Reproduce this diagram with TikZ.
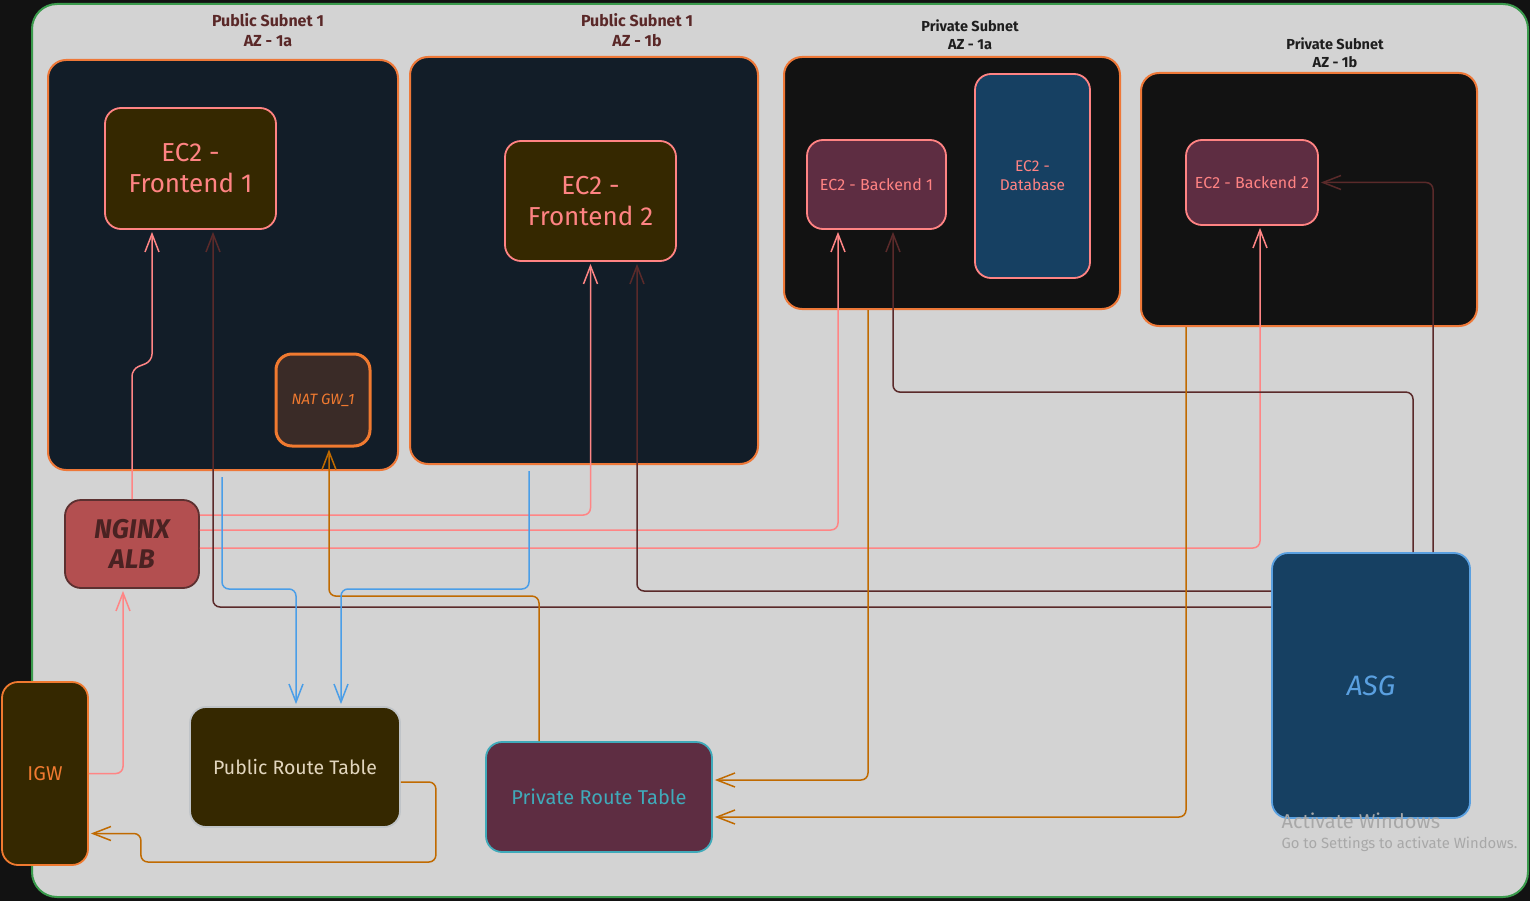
\documentclass[tikz,border=0pt]{standalone}
\usepackage{fontspec}
\setmainfont{Fira Sans}
\usetikzlibrary{arrows.meta}
\definecolor{bgdark}{HTML}{121212}
\definecolor{canvas}{HTML}{D3D3D3}
\definecolor{canvasline}{HTML}{3A9A4C}
\definecolor{pubfill}{HTML}{121D28}
\definecolor{privfill}{HTML}{121212}
\definecolor{subnetline}{HTML}{EE7838}
\definecolor{olive}{HTML}{352800}
\definecolor{salmon}{HTML}{FF8383}
\definecolor{plum}{HTML}{5E2D42}
\definecolor{navy}{HTML}{164062}
\definecolor{natfill}{HTML}{3A2B27}
\definecolor{natline}{HTML}{F07A30}
\definecolor{albfill}{HTML}{B34F50}
\definecolor{albline}{HTML}{5C3030}
\definecolor{albtext}{HTML}{4A2222}
\definecolor{rtline}{HTML}{C0C4C8}
\definecolor{rttext}{HTML}{E2D6BE}
\definecolor{teal}{HTML}{40AABA}
\definecolor{asgline}{HTML}{5AA0E0}
\definecolor{pubtitle}{HTML}{5A2828}
\definecolor{privtitle}{HTML}{1E1E1E}
\definecolor{wirepink}{HTML}{FF8585}
\definecolor{wiremaroon}{HTML}{5A2A2A}
\definecolor{wireorange}{HTML}{C06A00}
\definecolor{wireblue}{HTML}{4A9EE8}
\definecolor{winmark}{HTML}{A8A8A8}

\begin{document}
\begin{tikzpicture}[x=1pt,y=-1pt,
    subnet/.style={draw=subnetline,line width=2pt,rounded corners=18pt,inner sep=0pt},
    title/.style={align=center,font=\bfseries\fontsize{16}{20}\selectfont},
    box/.style={line width=1.8pt,rounded corners=16pt,inner sep=0pt,align=center},
    ec2/.style={box,draw=salmon,text=salmon},
    wire/.style={line width=1.5pt,rounded corners=7pt,shorten >=2pt,-{Straight Barb[length=18pt,width=14pt]}},
    pk/.style={wire,draw=wirepink},
    mr/.style={wire,draw=wiremaroon},
    og/.style={wire,draw=wireorange},
    bl/.style={wire,draw=wireblue}]
  \fill[bgdark] (0,0) rectangle (1530,901);
  \useasboundingbox (0,0) rectangle (1530,901);
  \draw[canvasline,line width=2pt,fill=canvas,rounded corners=25pt] (32,4) rectangle (1528,897);

  \node[subnet,fill=pubfill,minimum width=350pt,minimum height=410pt] (pub1a) at (223,265) {};
  \node[subnet,fill=pubfill,minimum width=348pt,minimum height=407pt] (pub1b) at (584,260.5) {};
  \node[subnet,fill=privfill,minimum width=336pt,minimum height=252pt] (priv1a) at (952,183) {};
  \node[subnet,fill=privfill,minimum width=336pt,minimum height=253pt] (priv1b) at (1309,199.5) {};
  \node[title,text=pubtitle] (pub1atitle) at (268,30) {Public Subnet 1\\AZ - 1a};
  \node[title,text=pubtitle] (pub1btitle) at (637,30) {Public Subnet 1\\AZ - 1b};
  \node[title,text=privtitle,font=\bfseries\fontsize{14.5}{18}\selectfont] (priv1atitle) at (970,35) {Private Subnet\\AZ - 1a};
  \node[title,text=privtitle,font=\bfseries\fontsize{14.5}{18}\selectfont] (priv1btitle) at (1335,53) {Private Subnet\\AZ - 1b};

  \node[ec2,fill=olive,minimum width=171pt,minimum height=121pt,font=\fontsize{26}{31}\selectfont] (front1) at (190.5,168.5) {EC2 -\\Frontend 1};
  \node[ec2,fill=olive,minimum width=171pt,minimum height=120pt,font=\fontsize{26}{31}\selectfont] (front2) at (590.5,201) {EC2 -\\Frontend 2};
  \node[box,draw=natline,line width=3pt,fill=natfill,text=natline,minimum width=94pt,minimum height=92pt,font=\itshape\fontsize{15}{16}\selectfont] (natgw) at (323,400) {NAT GW\_1};
  \node[ec2,fill=plum,minimum width=139pt,minimum height=89pt,font=\fontsize{16}{18}\selectfont] (back1) at (876.5,184.5) {EC2 - Backend 1};
  \node[ec2,fill=navy,minimum width=115pt,minimum height=204pt,font=\fontsize{15.5}{19}\selectfont] (db) at (1032.5,176) {EC2 -\\Database};
  \node[ec2,fill=plum,minimum width=132pt,minimum height=85pt,font=\fontsize{16}{18}\selectfont] (back2) at (1252,182.5) {EC2 - Backend 2};

  \node[box,draw=albline,fill=albfill,text=albtext,minimum width=134pt,minimum height=88pt,font=\bfseries\itshape\fontsize{27}{30}\selectfont] (nginx) at (132,544) {NGINX\\ALB};
  \node[box,draw=natline,fill=olive,text=natline,minimum width=86pt,minimum height=183pt,font=\fontsize{20}{22}\selectfont] (igw) at (45,773.5) {IGW};
  \node[box,draw=rtline,fill=olive,text=rttext,minimum width=210pt,minimum height=120pt,font=\fontsize{19.5}{22}\selectfont] (pubrt) at (295,767) {Public Route Table};
  \node[box,draw=teal,fill=plum,text=teal,minimum width=226pt,minimum height=110pt,font=\fontsize{20}{22}\selectfont] (privrt) at (599,797) {Private Route Table};
  \node[box,draw=asgline,fill=navy,text=asgline,minimum width=198pt,minimum height=265pt,font=\itshape\fontsize{28}{30}\selectfont] (asg) at (1371,685.5) {ASG};

  \draw[pk] (nginx.north) -- ++(0,-130) -- ++(20,-8) -- ([xshift=-38.5pt]front1.south);
  \draw[pk] ([yshift=29pt]nginx.east) -| (front2.south);
  \draw[pk] ([yshift=14pt]nginx.east) -| ([xshift=-38.5pt]back1.south);
  \draw[pk] ([yshift=-4pt]nginx.east) -| ([xshift=8pt]back2.south);
  \draw[pk] (igw.east) -| ([xshift=-9pt]nginx.south);

  \draw[mr] ([yshift=94.5pt]asg.west) -| ([xshift=46.5pt]front2.south);
  \draw[mr] ([yshift=78.5pt]asg.west) -| ([xshift=22.5pt]front1.south);
  \draw[mr] ([xshift=42pt]asg.north) -- ++(0,-160) -| ([xshift=16.5pt]back1.south);
  \draw[mr] ([xshift=62pt]asg.north) |- (back2.east);

  \draw[og] ([xshift=-60pt]privrt.north) -- ++(0,-145) -| ([xshift=6pt]natgw.south);
  \draw[og] ([xshift=-84pt]priv1a.south) |- ([yshift=17pt]privrt.east);
  \draw[og] ([xshift=-123pt]priv1b.south) |- ([yshift=-20pt]privrt.east);
  \draw[og] ([yshift=-15pt]pubrt.east) -- ++(35,0) -- ++(0,80) -- ++(-295,0) |- ([yshift=-60pt]igw.east);

  \draw[bl,shorten <=6pt] ([xshift=-1pt]pub1a.south) -- ++(0,118) -| ([xshift=1pt]pubrt.north);
  \draw[bl,shorten <=6pt] ([xshift=-55pt]pub1b.south) -- ++(0,124) -| ([xshift=46pt]pubrt.north);

  \node[text=winmark,anchor=west,font=\fontsize{20}{22}\selectfont] (winmark1) at (1278,821) {Activate Windows};
  \node[text=winmark,anchor=west,font=\fontsize{14.8}{16}\selectfont] (winmark2) at (1278,844) {Go to Settings to activate Windows.};
\end{tikzpicture}
\end{document}
